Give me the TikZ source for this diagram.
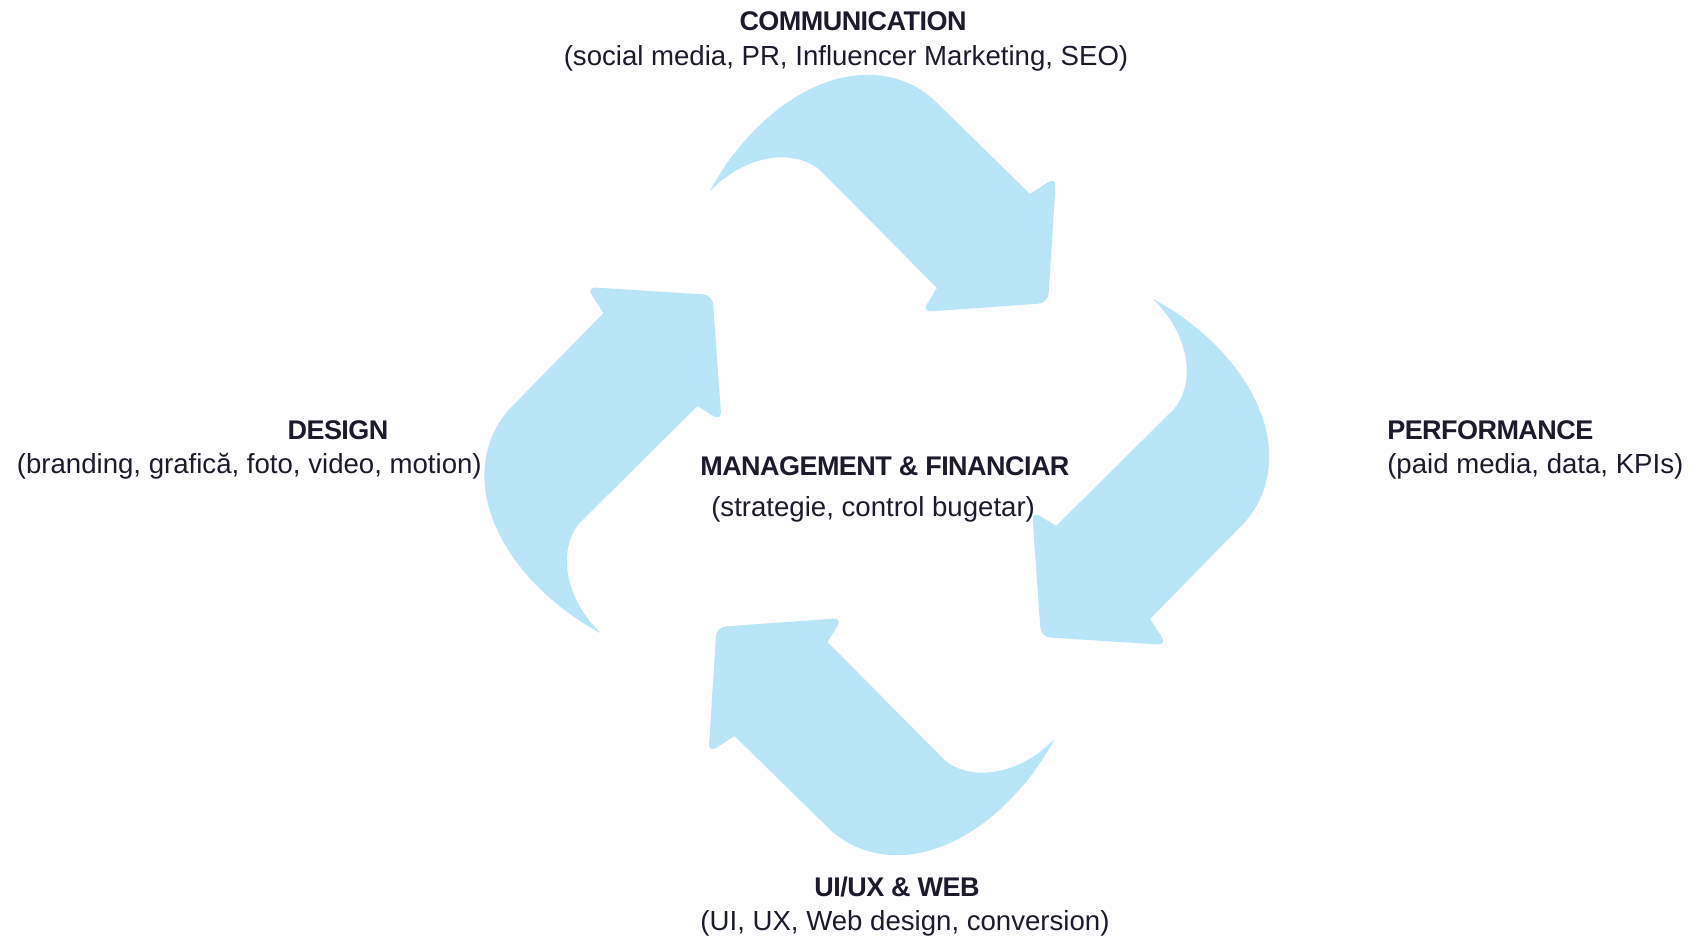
\documentclass[tikz,border=0pt]{standalone}
\usepackage{fontspec}
\setmainfont{Liberation Sans}
\newfontfamily\headfont{Liberation Sans}[LetterSpace=-2]
\usepackage{xcolor}

\definecolor{arrowblue}{HTML}{B8E5F7}
\definecolor{ink}{HTML}{1E1A2B}

\tikzset{
  titletext/.style={text=ink, inner sep=0pt,
    font={\headfont\bfseries\fontsize{20.25}{24}\selectfont}},
  subtext/.style={text=ink, inner sep=0pt,
    font={\fontsize{20.7}{25}\selectfont}},
  cyclearrow/.style={fill=arrowblue},
}

\begin{document}
\begin{tikzpicture}[x=0.75pt,y=-0.75pt]
  \useasboundingbox (0,0) rectangle (1693,938);
  % centre of the cycle
  \coordinate (hub) at (879,465);
  % the four arrows, each one a quarter turn on
  \foreach \ang/\sx/\sy in {0/0/0, -90/3/0, -180/-6.5/0, -270/1/-4.5}
    \fill[cyclearrow, rotate around={\ang:(hub)}, shift={(\sx,\sy)}]
      (710,191) .. controls (745,125) and (810,72) .. (872,75)
      .. controls (898,76) and (918,86) .. (933,99)
      -- (1030,194)
      [rounded corners=7] -- (1056,177) -- (1048,303) -- (922,312)
      [sharp corners] -- (937,288) -- (822,172)
      .. controls (800,150) and (750,150) .. cycle;
  % labels
  \node[titletext, anchor=base] (comm) at (853,31) {COMMUNICATION};
  \node[subtext, anchor=base] (commsub) at (846,66)
    {(social media, PR, Influencer Marketing, SEO)};
  \node[titletext, anchor=base] (design) at (338,439) {DESIGN};
  \node[subtext, anchor=base east] (designsub) at (482,473.5)
    {(branding, grafică, foto, video, motion)};
  \node[titletext, anchor=base west] (perf) at (1387,439) {PERFORMANCE};
  \node[subtext, anchor=base west] (perfsub) at (1387,473.5)
    {(paid media, data, KPIs)};
  \node[titletext, anchor=base west] (mgmt) at (700,475)
    {MANAGEMENT \& FINANCIAR};
  \node[subtext, anchor=base west] (mgmtsub) at (711,516.5)
    {(strategie, control bugetar)};
  \node[titletext, anchor=base] (uiux) at (897,896) {UI/UX \& WEB};
  \node[subtext, anchor=base] (uiuxsub) at (905,930.5)
    {(UI, UX, Web design, conversion)};
\end{tikzpicture}
\end{document}
